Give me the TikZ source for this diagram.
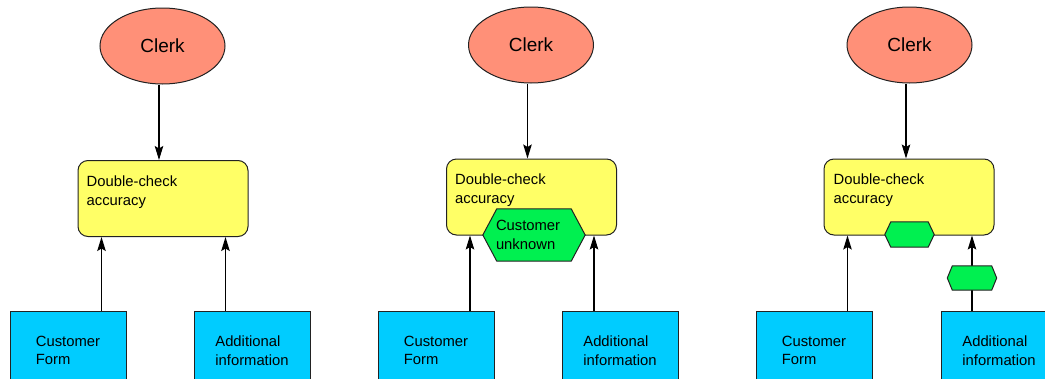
\documentclass[tikz,border=0pt]{standalone}
\usepackage{fontspec}
\setmainfont{Liberation Sans}
\usetikzlibrary{arrows.meta,shapes.geometric}
\definecolor{clerkfill}{HTML}{FF9078}
\definecolor{taskfill}{HTML}{FFFF66}
\definecolor{docfill}{HTML}{00CCFF}
\definecolor{eventfill}{HTML}{00F050}
\definecolor{edge}{HTML}{222222}

\begin{document}
\begin{tikzpicture}[x=1pt,y=-1pt,
  txt/.style={font=\fontsize{14.8}{18.6}\selectfont},
  role/.style={ellipse, draw=edge, line width=1pt, fill=clerkfill,
    minimum width=125pt, minimum height=76pt, inner sep=0pt,
    font=\fontsize{19}{23}\selectfont},
  task/.style={rectangle, rounded corners=10pt, draw=edge, line width=1pt,
    fill=taskfill, minimum width=170pt, minimum height=76pt, inner sep=0pt},
  tasklabel/.style={txt, anchor=north west, align=left, inner sep=0pt},
  doc/.style={rectangle, draw=edge, line width=1pt, fill=docfill,
    minimum width=116pt, minimum height=78pt, inner sep=0pt, txt, align=left},
  hexslot/.style={rectangle, draw=none, inner sep=0pt},
  hexline/.style={draw=edge, line width=1pt, fill=eventfill},
  link/.style={draw=black, line width=1.1pt},
  arr/.style={link, -{Stealth[length=14pt,width=8.5pt,inset=2.5pt]}},
]
\useasboundingbox (0,0) rectangle (1045,378);
\clip (0,0) rectangle (1045,378);

% ---------- left panel ----------
\node[role] (c1) at (162.5,46) {Clerk};
\node[task] (d1) at (163,198.5) {};
\node[tasklabel] (t1) at ([xshift=9pt,yshift=-15.5pt]d1.north west) {Double-check\\accuracy};
\node[doc] (b1) at (68,350.5) {Customer\\Form};
\node[doc] (b2) at (252,350.5) {Additional\\information};
\coordinate (p1) at ([xshift=24pt]d1.south west);
\coordinate (q1) at ([xshift=-23pt]d1.south east);
\draw[arr] ([xshift=-3.5pt]c1.south) -- ([xshift=-3.5pt]c1.south |- d1.north);
\draw[arr] (b1.north -| p1) -- (p1);
\draw[arr] (b2.north -| q1) -- (q1);

% ---------- middle panel ----------
\node[role] (c2) at (531,45) {Clerk};
\node[task] (d2) at (531.5,197) {};
\node[tasklabel] (t2) at ([xshift=9pt,yshift=-15.5pt]d2.north west) {Double-check\\accuracy};
\node[doc] (b3) at (436,350.5) {Customer\\Form};
\node[doc] (b4) at (620,350.5) {Additional\\information};
\coordinate (p2) at ([xshift=24pt]d2.south west);
\coordinate (q2) at ([xshift=-23pt]d2.south east);
\draw[arr] ([xshift=-3.5pt]c2.south) -- ([xshift=-3.5pt]c2.south |- d2.north);
\draw[arr] (b3.north -| p2) -- (p2);
\draw[arr] (b4.north -| q2) -- (q2);
% event attached to the task
\node[hexslot, minimum width=102pt, minimum height=52pt] (h2) at (534,235) {};
\path[hexline] (h2.west) -- ([xshift=14pt]h2.north west) -- ([xshift=-14pt]h2.north east)
  -- (h2.east) -- ([xshift=-14pt]h2.south east) -- ([xshift=14pt]h2.south west) -- cycle;
\node[txt, text width=76pt, align=left, inner sep=0pt] (h2t) at (h2) {Customer\\unknown};

% ---------- right panel ----------
\node[role] (c3) at (909.5,45) {Clerk};
\node[task] (d3) at (909,197) {};
\node[tasklabel] (t3) at ([xshift=10pt,yshift=-15.5pt]d3.north west) {Double-check\\accuracy};
\node[doc] (b5) at (814,350.5) {Customer\\Form};
\node[doc] (b6) at (999,350.5) {Additional\\information};
\coordinate (p3) at ([xshift=24pt]d3.south west);
\node[hexslot, minimum width=49pt, minimum height=24pt] (h3b) at (972,278) {};
\draw[arr] ([xshift=-3.5pt]c3.south) -- ([xshift=-3.5pt]c3.south |- d3.north);
\draw[arr] (b5.north -| p3) -- (p3);
\draw[link] (b6.north -| h3b) -- (h3b.south);
\draw[arr] (h3b.north) -- (h3b |- d3.south);
\node[hexslot, minimum width=49pt, minimum height=25pt] (h3a) at (909.5,234.5) {};
\path[hexline] (h3a.west) -- ([xshift=6pt]h3a.north west) -- ([xshift=-6pt]h3a.north east)
  -- (h3a.east) -- ([xshift=-6pt]h3a.south east) -- ([xshift=6pt]h3a.south west) -- cycle;
\path[hexline] (h3b.west) -- ([xshift=5pt]h3b.north west) -- ([xshift=-5pt]h3b.north east)
  -- (h3b.east) -- ([xshift=-5pt]h3b.south east) -- ([xshift=5pt]h3b.south west) -- cycle;
\end{tikzpicture}
\end{document}
